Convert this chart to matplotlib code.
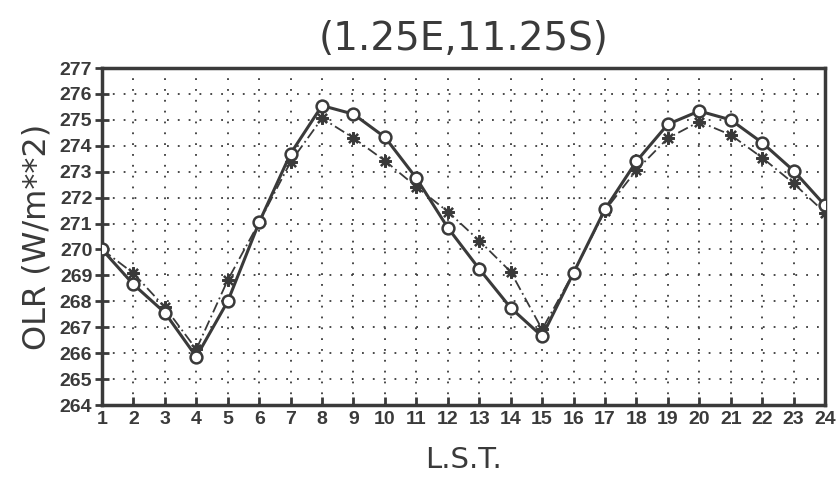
import matplotlib
matplotlib.use('Agg')
import matplotlib.pyplot as plt
import numpy as np

# local solar time (hours)
lst = np.arange(1, 25)

# OLR, circles (solid line)
olr_circle = [270.0, 268.65, 267.56, 265.86, 268.0, 271.05, 273.7, 275.55,
              275.22, 274.33, 272.75, 270.84, 269.25, 267.75, 266.65, 269.1,
              271.55, 273.4, 274.83, 275.34, 275.0, 274.12, 273.04, 271.7]

# OLR, asterisks (dash-dot line)
olr_star = [270.0, 269.08, 267.77, 266.15, 268.82, 271.05, 273.38, 275.06,
            274.3, 273.42, 272.42, 271.46, 270.34, 269.14, 266.92, 269.1,
            271.5, 273.06, 274.29, 274.93, 274.42, 273.54, 272.55, 271.42]

yticks = np.arange(264, 278)

fig = plt.figure(figsize=(8.39, 4.84), dpi=100)
ax = fig.add_axes([0.1216, 0.1632, 0.8617, 0.6963])

dark = '#3a3a3a'

ax.plot(lst, olr_star, color=dark, lw=1.3, ls=(0, (6, 2, 1, 2)),
        marker=(8, 2, 0), ms=9, mew=1.6, zorder=4)
ax.plot(lst, olr_circle, color=dark, lw=2.2, ls='-',
        marker='o', ms=8.5, mfc='white', mec=dark, mew=1.8, zorder=5)

ax.set_xlim(1, 24)
ax.set_ylim(264, 277)
ax.set_xticks(lst)
ax.set_yticks(yticks)

tick_font = dict(family=['Liberation Sans Narrow', 'Liberation Sans', 'DejaVu Sans'],
                 weight='bold', size=14)
ax.set_xticklabels([str(v) for v in lst], fontdict=tick_font, color=dark)
ax.set_yticklabels([str(v) for v in yticks], fontdict=tick_font, color=dark)

ax.tick_params(axis='x', direction='in', length=6, width=2, color=dark, pad=4)
ax.tick_params(axis='y', direction='inout', length=10, width=2, color=dark, pad=2)

ax.grid(True, ls=(0, (1, 5)), lw=1.3, color=dark)
for s in ax.spines.values():
    s.set_linewidth(2.5)
    s.set_color(dark)

label_font = ['DejaVu Sans']
ax.set_title('(1.25E,11.25S)', fontsize=28, family=label_font, color=dark, pad=13)
ax.set_ylabel('OLR (W/m**2)', fontsize=23, family=label_font, color=dark, labelpad=5)
ax.set_xlabel('L.S.T.', fontsize=21, family=label_font, color=dark, labelpad=13)

fig.savefig('out.png', dpi=100)
